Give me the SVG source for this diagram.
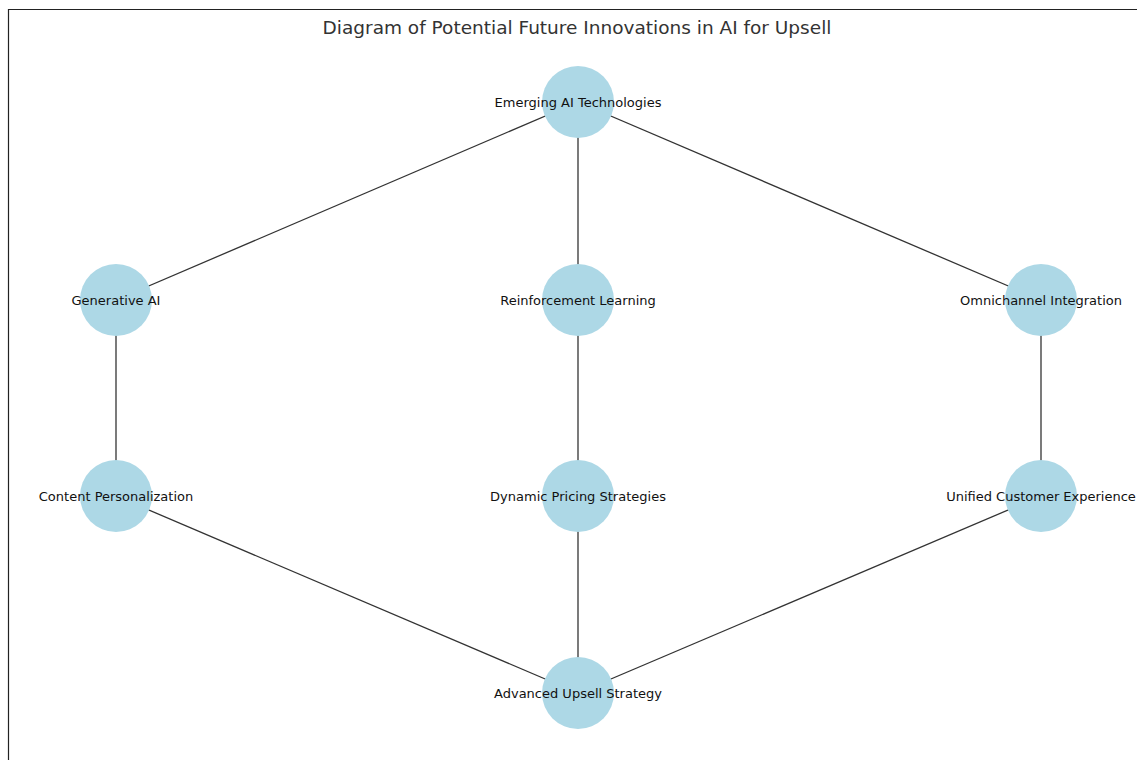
<svg xmlns="http://www.w3.org/2000/svg" width="1137" height="760" viewBox="0 0 1137 760">
<defs>
<style>
.frame{fill:none;stroke:#222;stroke-width:1.2}
.edge{stroke:#333;stroke-width:1.3;fill:none}
.node circle{fill:#add8e6}
.node text{font-family:"DejaVu Sans",sans-serif;font-size:13px;fill:#111;text-anchor:middle;dominant-baseline:central}
.title{font-family:"DejaVu Sans",sans-serif;font-size:18.5px;fill:#333;text-anchor:middle}
</style>
</defs>
<rect x="0" y="0" width="1137" height="760" fill="#fff"/>
<path class="frame" d="M8.5,760 V9.5 H1137"/>
<text class="title" x="577" y="34">Diagram of Potential Future Innovations in AI for Upsell</text>
<g id="connectors">
<line class="edge" x1="578" y1="102" x2="116" y2="300"/>
<line class="edge" x1="578" y1="102" x2="578" y2="300"/>
<line class="edge" x1="578" y1="102" x2="1041" y2="300"/>
<line class="edge" x1="116" y1="300" x2="116" y2="496"/>
<line class="edge" x1="578" y1="300" x2="578" y2="496"/>
<line class="edge" x1="1041" y1="300" x2="1041" y2="496"/>
<line class="edge" x1="116" y1="496" x2="578" y2="693"/>
<line class="edge" x1="578" y1="496" x2="578" y2="693"/>
<line class="edge" x1="1041" y1="496" x2="578" y2="693"/>
</g>
<g id="n-emerging" class="node"><circle cx="578" cy="102" r="36"/><text x="578" y="102">Emerging AI Technologies</text></g>
<g id="n-generative" class="node"><circle cx="116" cy="300" r="36"/><text x="116" y="300">Generative AI</text></g>
<g id="n-reinforcement" class="node"><circle cx="578" cy="300" r="36"/><text x="578" y="300">Reinforcement Learning</text></g>
<g id="n-omnichannel" class="node"><circle cx="1041" cy="300" r="36"/><text x="1041" y="300">Omnichannel Integration</text></g>
<g id="n-content" class="node"><circle cx="116" cy="496" r="36"/><text x="116" y="496">Content Personalization</text></g>
<g id="n-dynamic" class="node"><circle cx="578" cy="496" r="36"/><text x="578" y="496">Dynamic Pricing Strategies</text></g>
<g id="n-unified" class="node"><circle cx="1041" cy="496" r="36"/><text x="1041" y="496">Unified Customer Experience</text></g>
<g id="n-advanced" class="node"><circle cx="578" cy="693" r="36"/><text x="578" y="693">Advanced Upsell Strategy</text></g>
</svg>
